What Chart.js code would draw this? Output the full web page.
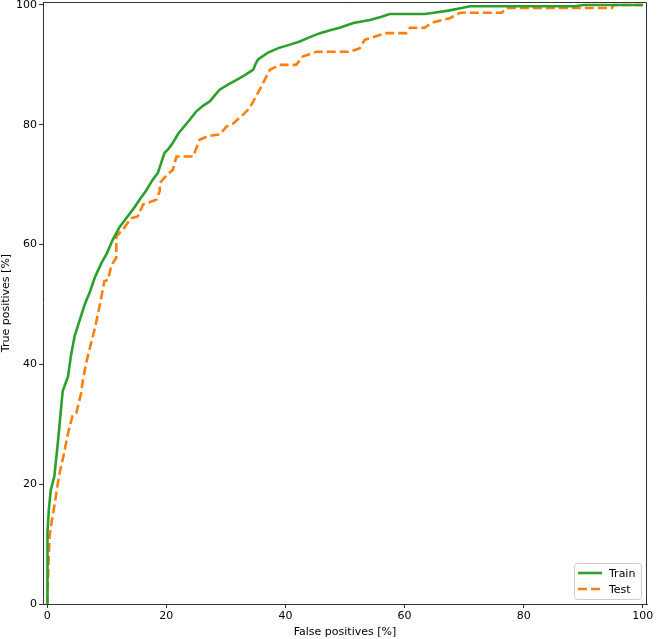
<!DOCTYPE html>
<html>
<head>
<meta charset="utf-8">
<script src="https://cdn.jsdelivr.net/npm/chart.js@4"></script>
<style>
  body { margin: 0; background: #fff; }
  canvas { display: block; }
</style>
</head>
<body>
<canvas id="roc" width="660" height="639"></canvas>
<script>
// ROC curves, values (percent)
const trainFpr = [0, 0, 0.1, 0.3, 0.6, 1.2, 1.8, 2.6, 3.5, 4.0, 4.6, 5.5, 6.3, 7.1, 8.0, 9.1, 10.0, 11.0, 12.2, 13.5,
  14.5, 15.5, 16.6, 17.7, 18.6, 19.2, 19.7, 20.4, 21.1, 22.0, 22.8, 23.9, 25.0, 26.2, 27.3, 28.2, 29.0, 30.5, 31.8, 33.2,
  34.6, 35.0, 35.4, 37.0, 38.8, 40.5, 42.4, 44.0, 45.8, 47.5, 49.1, 51.4, 54.2, 56.0, 57.5, 60.0, 63.4, 65.5, 67.6, 69.6,
  71.0, 80.0, 88.6, 90.0, 100];
const trainTpr = [0, 8, 12, 16, 19, 21.3, 27, 35.5, 38, 41.5, 44.7, 47.5, 50, 51.9, 54.5, 56.9, 58.5, 60.8, 63, 64.7,
  66, 67.5, 69, 70.8, 72.0, 73.8, 75.3, 76, 77.0, 78.5, 79.5, 80.8, 82.2, 83.2, 83.9, 85, 85.9, 86.8, 87.5, 88.3,
  89.2, 90.2, 90.9, 92, 92.8, 93.3, 93.9, 94.6, 95.3, 95.8, 96.2, 97.0, 97.5, 98.0, 98.5, 98.5, 98.5, 98.8, 99.1, 99.5,
  99.8, 99.8, 99.8, 100, 100];

const testFpr = [0, 0.2, 0.4, 0.8, 1.2, 1.6, 2.1, 2.8, 3.5, 4.3, 4.9, 5.7, 6.0, 6.5, 7.1, 8.0, 8.8, 9.6, 10.2, 10.8,
  11.6, 11.6, 12.7, 14.1, 15.2, 16.1, 18.3, 18.9, 18.9, 20.0, 21.1, 21.7, 24.5, 25.6, 27.0, 29.0, 30.1, 31.2, 32.9, 34.0,
  35.7, 37.4, 39.0, 41.8, 42.9, 45.2, 50.8, 52.5, 53.3, 56.9, 60.3, 60.9, 63.4, 64.5, 67.6, 69.3, 76.3, 77.1, 94.8, 95.1,
  100];
const testTpr = [0, 6, 11.3, 14, 16.3, 19, 21.9, 25, 28.5, 31.6, 31.9, 35.2, 37.4, 40, 42.5, 46, 49.7, 53.9, 54.1, 56.6,
  57.8, 61.4, 62.5, 64.4, 64.7, 66.7, 67.5, 68.9, 70.3, 71.5, 72.5, 74.7, 74.7, 77.5, 78.1, 78.4, 79.7, 80.2, 81.7, 82.8,
  85.9, 89.2, 90.0, 90.0, 91.4, 92.2, 92.2, 92.8, 94.2, 95.3, 95.3, 96.2, 96.2, 97.0, 97.8, 98.7, 98.7, 99.5, 99.5, 100,
  100];

const tickValues = [0, 20, 40, 60, 80, 100];
const seriesNames = ["Train", "Test"];

const FONT = { family: "'DejaVu Sans', sans-serif", size: 11 };

function toPoints(xs, ys) {
  return xs.map((x, i) => ({ x: x, y: ys[i] }));
}

// top/right spines and the legend box
const framePlugin = {
  id: "frame",
  afterDraw(chart) {
    const { ctx, chartArea: a } = chart;
    ctx.save();
    ctx.strokeStyle = "#333";
    ctx.lineWidth = 1;
    ctx.beginPath();
    ctx.moveTo(a.left, a.top + 0.5);
    ctx.lineTo(a.right - 0.5, a.top + 0.5);
    ctx.lineTo(a.right - 0.5, a.bottom);
    ctx.stroke();

    // legend
    const w = 67, h = 36;
    const x0 = a.right - 6 - w, y0 = a.bottom - 5 - h;
    ctx.fillStyle = "rgba(255,255,255,0.8)";
    ctx.strokeStyle = "#cccccc";
    ctx.beginPath();
    ctx.roundRect(x0 + 0.5, y0 + 0.5, w, h, 3);
    ctx.fill();
    ctx.stroke();
    chart.data.datasets.forEach((ds, i) => {
      const yy = y0 + 10 + i * 16;
      ctx.strokeStyle = ds.borderColor;
      ctx.lineWidth = ds.borderWidth;
      ctx.setLineDash(ds.borderDash || []);
      ctx.beginPath();
      ctx.moveTo(x0 + 4, yy);
      ctx.lineTo(x0 + 28, yy);
      ctx.stroke();
      ctx.setLineDash([]);
      ctx.fillStyle = "#000";
      ctx.font = FONT.size + "px " + FONT.family;
      ctx.textBaseline = "middle";
      ctx.fillText(ds.label, x0 + 35, yy + 1);
    });
    ctx.restore();
  }
};

const chart = new Chart(document.getElementById("roc"), {
  type: "scatter",
  data: {
    datasets: [
      {
        label: seriesNames[0],
        data: toPoints(trainFpr, trainTpr),
        showLine: true,
        borderColor: "#2ca02c",
        borderWidth: 2.6,
        pointRadius: 0,
        tension: 0
      },
      {
        label: seriesNames[1],
        data: toPoints(testFpr, testTpr),
        showLine: true,
        borderColor: "#ff7f0e",
        borderWidth: 2.6,
        borderDash: [9, 4],
        pointRadius: 0,
        tension: 0
      }
    ]
  },
  options: {
    responsive: false,
    animation: false,
    devicePixelRatio: 1,
    layout: { padding: { top: 2, right: 13, left: 0, bottom: 0 } },
    plugins: {
      legend: { display: false },
      tooltip: { enabled: false }
    },
    scales: {
      x: {
        type: "linear",
        min: -0.7,
        max: 100.7,
        afterBuildTicks: (s) => { s.ticks = tickValues.map(v => ({ value: v })); },
        afterFit: (s) => { s.height = 35; s.paddingLeft = 0; },
        ticks: { font: FONT, color: "#000", padding: 2, maxRotation: 0 },
        grid: { drawOnChartArea: false, tickLength: 4, color: "#333" },
        border: { display: true, color: "#333", width: 1 },
        title: { display: true, text: "False positives [%]", font: FONT, color: "#000", padding: { top: 2, bottom: 0 } }
      },
      y: {
        type: "linear",
        min: 0,
        max: 100.5,
        afterBuildTicks: (s) => { s.ticks = tickValues.map(v => ({ value: v })); },
        afterFit: (s) => { s.width = 43; s.paddingTop = 0; s.paddingBottom = 0; },
        ticks: { font: FONT, color: "#000", padding: 2 },
        grid: { drawOnChartArea: false, tickLength: 4, color: "#333" },
        border: { display: true, color: "#333", width: 1 },
        title: { display: true, text: "True positives [%]", font: FONT, color: "#000", padding: { top: 0, bottom: 3 } }
      }
    }
  },
  plugins: [framePlugin]
});
</script>
</body>
</html>
